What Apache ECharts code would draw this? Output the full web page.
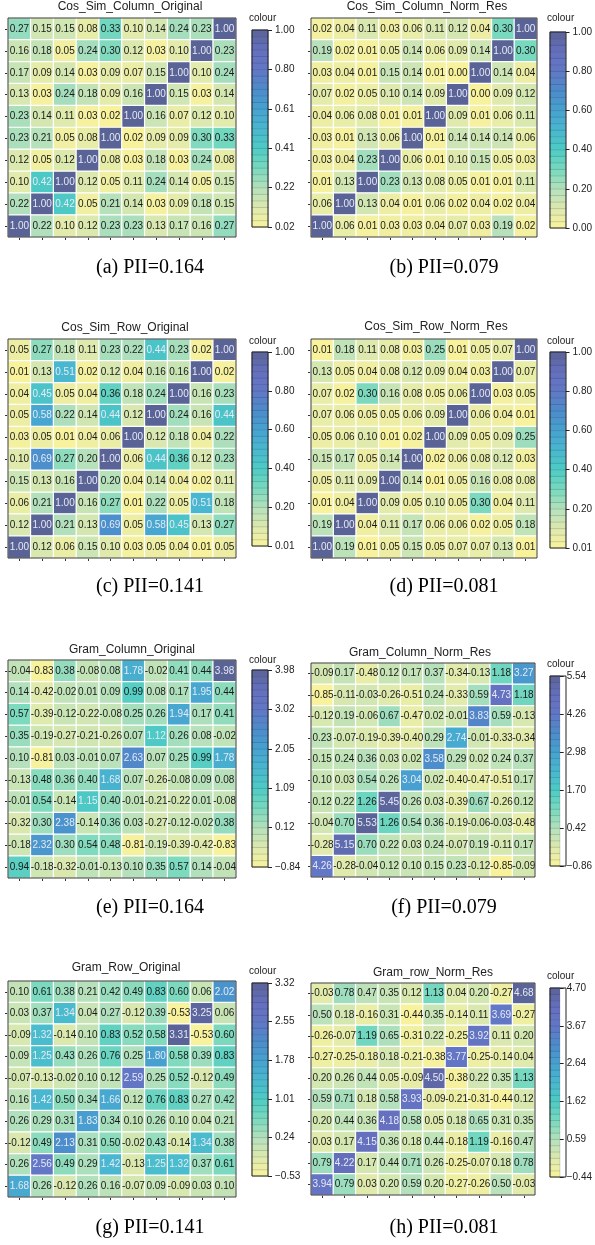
<!DOCTYPE html>
<html><head><meta charset="utf-8">
<script src="https://cdn.jsdelivr.net/npm/echarts@6/dist/echarts.min.js"></script>
<style>html,body{margin:0;padding:0;background:#fff}#c{width:595px;height:1245px}</style>
</head><body><div id="c"></div>
<script>
// ---------- DATA ----------
const titles = ['Cos_Sim_Column_Original','Cos_Sim_Column_Norm_Res','Cos_Sim_Row_Original','Cos_Sim_Row_Norm_Res',
  'Gram_Column_Original','Gram_Column_Norm_Res','Gram_Row_Original','Gram_row_Norm_Res'];
const captions = ['(a) PII=0.164','(b) PII=0.079','(c) PII=0.141','(d) PII=0.081',
  '(e) PII=0.164','(f) PII=0.079','(g) PII=0.141','(h) PII=0.081'];

const cosSimColumnOriginal = [
 [0.27,0.15,0.15,0.08,0.33,0.10,0.14,0.24,0.23,1.00],
 [0.16,0.18,0.05,0.24,0.30,0.12,0.03,0.10,1.00,0.23],
 [0.17,0.09,0.14,0.03,0.09,0.07,0.15,1.00,0.10,0.24],
 [0.13,0.03,0.24,0.18,0.09,0.16,1.00,0.15,0.03,0.14],
 [0.23,0.14,0.11,0.03,0.02,1.00,0.16,0.07,0.12,0.10],
 [0.23,0.21,0.05,0.08,1.00,0.02,0.09,0.09,0.30,0.33],
 [0.12,0.05,0.12,1.00,0.08,0.03,0.18,0.03,0.24,0.08],
 [0.10,0.42,1.00,0.12,0.05,0.11,0.24,0.14,0.05,0.15],
 [0.22,1.00,0.42,0.05,0.21,0.14,0.03,0.09,0.18,0.15],
 [1.00,0.22,0.10,0.12,0.23,0.23,0.13,0.17,0.16,0.27]];
const cosSimColumnNormRes = [
 [0.02,0.04,0.11,0.03,0.06,0.11,0.12,0.04,0.30,1.00],
 [0.19,0.02,0.01,0.05,0.14,0.06,0.09,0.14,1.00,0.30],
 [0.03,0.04,0.01,0.15,0.14,0.01,0.00,1.00,0.14,0.04],
 [0.07,0.02,0.05,0.10,0.14,0.09,1.00,0.00,0.09,0.12],
 [0.04,0.06,0.08,0.01,0.01,1.00,0.09,0.01,0.06,0.11],
 [0.03,0.01,0.13,0.06,1.00,0.01,0.14,0.14,0.14,0.06],
 [0.03,0.04,0.23,1.00,0.06,0.01,0.10,0.15,0.05,0.03],
 [0.01,0.13,1.00,0.23,0.13,0.08,0.05,0.01,0.01,0.11],
 [0.06,1.00,0.13,0.04,0.01,0.06,0.02,0.04,0.02,0.04],
 [1.00,0.06,0.01,0.03,0.03,0.04,0.07,0.03,0.19,0.02]];
const cosSimRowOriginal = [
 [0.05,0.27,0.18,0.11,0.23,0.22,0.44,0.23,0.02,1.00],
 [0.01,0.13,0.51,0.02,0.12,0.04,0.16,0.16,1.00,0.02],
 [0.04,0.45,0.05,0.04,0.36,0.18,0.24,1.00,0.16,0.23],
 [0.05,0.58,0.22,0.14,0.44,0.12,1.00,0.24,0.16,0.44],
 [0.03,0.05,0.01,0.04,0.06,1.00,0.12,0.18,0.04,0.22],
 [0.10,0.69,0.27,0.20,1.00,0.06,0.44,0.36,0.12,0.23],
 [0.15,0.13,0.16,1.00,0.20,0.04,0.14,0.04,0.02,0.11],
 [0.06,0.21,1.00,0.16,0.27,0.01,0.22,0.05,0.51,0.18],
 [0.12,1.00,0.21,0.13,0.69,0.05,0.58,0.45,0.13,0.27],
 [1.00,0.12,0.06,0.15,0.10,0.03,0.05,0.04,0.01,0.05]];
const cosSimRowNormRes = [
 [0.01,0.18,0.11,0.08,0.03,0.25,0.01,0.05,0.07,1.00],
 [0.13,0.05,0.04,0.08,0.12,0.09,0.04,0.03,1.00,0.07],
 [0.07,0.02,0.30,0.16,0.08,0.05,0.06,1.00,0.03,0.05],
 [0.07,0.06,0.05,0.05,0.06,0.09,1.00,0.06,0.04,0.01],
 [0.05,0.06,0.10,0.01,0.02,1.00,0.09,0.05,0.09,0.25],
 [0.15,0.17,0.05,0.14,1.00,0.02,0.06,0.08,0.12,0.03],
 [0.05,0.11,0.09,1.00,0.14,0.01,0.05,0.16,0.08,0.08],
 [0.01,0.04,1.00,0.09,0.05,0.10,0.05,0.30,0.04,0.11],
 [0.19,1.00,0.04,0.11,0.17,0.06,0.06,0.02,0.05,0.18],
 [1.00,0.19,0.01,0.05,0.15,0.05,0.07,0.07,0.13,0.01]];
const gramColumnOriginal = [
 [-0.04,-0.83,0.38,-0.08,0.08,1.78,-0.02,0.41,0.44,3.98],
 [0.14,-0.42,-0.02,0.01,0.09,0.99,0.08,0.17,1.95,0.44],
 [0.57,-0.39,-0.12,-0.22,-0.08,0.25,0.26,1.94,0.17,0.41],
 [0.35,-0.19,-0.27,-0.21,-0.26,0.07,1.12,0.26,0.08,-0.02],
 [0.10,-0.81,0.03,-0.01,0.07,2.63,0.07,0.25,0.99,1.78],
 [-0.13,0.48,0.36,0.40,1.68,0.07,-0.26,-0.08,0.09,0.08],
 [-0.01,0.54,-0.14,1.15,0.40,-0.01,-0.21,-0.22,0.01,-0.08],
 [-0.32,0.30,2.38,-0.14,0.36,0.03,-0.27,-0.12,-0.02,0.38],
 [-0.18,2.32,0.30,0.54,0.48,-0.81,-0.19,-0.39,-0.42,-0.83],
 [0.94,-0.18,-0.32,-0.01,-0.13,0.10,0.35,0.57,0.14,-0.04]];
const gramColumnNormRes = [
 [-0.09,0.17,-0.48,0.12,0.17,0.37,-0.34,-0.13,1.18,3.27],
 [-0.85,-0.11,-0.03,-0.26,-0.51,0.24,-0.33,0.59,4.73,1.18],
 [-0.12,0.19,-0.06,0.67,-0.47,0.02,-0.01,3.83,0.59,-0.13],
 [0.23,-0.07,-0.19,-0.39,-0.40,0.29,2.74,-0.01,-0.33,-0.34],
 [0.15,0.24,0.36,0.03,0.02,3.58,0.29,0.02,0.24,0.37],
 [0.10,0.03,0.54,0.26,3.04,0.02,-0.40,-0.47,-0.51,0.17],
 [0.12,0.22,1.26,5.45,0.26,0.03,-0.39,0.67,-0.26,0.12],
 [-0.04,0.70,5.53,1.26,0.54,0.36,-0.19,-0.06,-0.03,-0.48],
 [-0.28,5.15,0.70,0.22,0.03,0.24,-0.07,0.19,-0.11,0.17],
 [4.26,-0.28,-0.04,0.12,0.10,0.15,0.23,-0.12,-0.85,-0.09]];
const gramRowOriginal = [
 [0.10,0.61,0.38,0.21,0.42,0.49,0.83,0.60,0.06,2.02],
 [0.03,0.37,1.34,0.04,0.27,-0.12,0.39,-0.53,3.25,0.06],
 [-0.09,1.32,-0.14,0.10,0.83,0.52,0.58,3.31,-0.53,0.60],
 [0.09,1.25,0.43,0.26,0.76,0.25,1.80,0.58,0.39,0.83],
 [-0.07,-0.13,-0.02,0.10,0.12,2.59,0.25,0.52,-0.12,0.49],
 [0.16,1.42,0.50,0.34,1.66,0.12,0.76,0.83,0.27,0.42],
 [0.26,0.29,0.31,1.83,0.34,0.10,0.26,0.10,0.04,0.21],
 [-0.12,0.49,2.13,0.31,0.50,-0.02,0.43,-0.14,1.34,0.38],
 [0.26,2.56,0.49,0.29,1.42,-0.13,1.25,1.32,0.37,0.61],
 [1.68,0.26,-0.12,0.26,0.16,-0.07,0.09,-0.09,0.03,0.10]];
const gramRowNormRes = [
 [-0.03,0.78,0.47,0.35,0.12,1.13,0.04,0.20,-0.27,4.68],
 [0.50,0.18,-0.16,0.31,-0.44,0.35,-0.14,0.11,3.69,-0.27],
 [-0.26,-0.07,1.19,0.65,-0.31,0.22,-0.25,3.92,0.11,0.20],
 [-0.27,-0.25,-0.18,0.18,-0.21,-0.38,3.77,-0.25,-0.14,0.04],
 [0.20,0.26,0.44,0.05,-0.09,4.50,-0.38,0.22,0.35,1.13],
 [0.59,0.71,0.18,0.58,3.93,-0.09,-0.21,-0.31,-0.44,0.12],
 [0.20,0.44,0.36,4.18,0.58,0.05,0.18,0.65,0.31,0.35],
 [0.03,0.17,4.15,0.36,0.18,0.44,-0.18,1.19,-0.16,0.47],
 [0.79,4.22,0.17,0.44,0.71,0.26,-0.25,-0.07,0.18,0.78],
 [3.94,0.79,0.03,0.20,0.59,0.20,-0.27,-0.26,0.50,-0.03]];

// colour-bar tick labels (bottom to top)
const ticksA = [0.02,0.22,0.41,0.61,0.80,1.00];
const ticksB = [0.00,0.20,0.40,0.60,0.80,1.00];
const ticksC = [0.01,0.20,0.40,0.60,0.80,1.00];
const ticksD = [0.01,0.20,0.40,0.60,0.80,1.00];
const ticksE = [-0.84,0.12,1.09,2.05,3.02,3.98];
const ticksF = [-0.86,0.42,1.70,2.98,4.26,5.54];
const ticksG = [-0.53,0.24,1.01,1.78,2.55,3.32];
const ticksH = [-0.44,0.59,1.62,2.64,3.67,4.70];

const matrices = [cosSimColumnOriginal,cosSimColumnNormRes,cosSimRowOriginal,cosSimRowNormRes,
  gramColumnOriginal,gramColumnNormRes,gramRowOriginal,gramRowNormRes];
const tickSets = [ticksA,ticksB,ticksC,ticksD,ticksE,ticksF,ticksG,ticksH];

// ---------- LAYOUT (positions only) ----------
const layout = [
 {grid:[8,18,228,219],   title:[130,7],   cbar:[252,30,16,197],  colour:[249,18],  cap:[150,268]},
 {grid:[311,18,226,219], title:[427,7],   cbar:[550,32,16,196],  colour:[547,18],  cap:[444,268]},
 {grid:[8,339,228,219],  title:[125,328], cbar:[252,352,16,194], colour:[249,341], cap:[150,587]},
 {grid:[311,339,226,219],title:[436,327], cbar:[550,352,16,196], colour:[547,341], cap:[444,587]},
 {grid:[8,660,228,218],  title:[132,650], cbar:[252,670,16,197], colour:[249,660], cap:[150,908]},
 {grid:[311,663,224,214],title:[420,653], cbar:[550,676,16,190], colour:[547,664], cap:[444,908]},
 {grid:[8,981,228,216],  title:[126,968], cbar:[252,983,16,193], colour:[249,971], cap:[150,1228]},
 {grid:[311,983,224,212],title:[433,973], cbar:[550,988,16,189], colour:[547,976], cap:[444,1228]}
];
</script>
<script>
const FONT = '"Liberation Sans", Arial, Helvetica, sans-serif';
const palette = ['#f8f29c','#dde9ae','#b4e0bc','#78d9be','#4dcbc4','#48b8cf','#47a2d0','#4c8ccb','#6277c6','#6570bf','#5a6396'];
const NSTRIPE = 30;
const cats10 = ['0','1','2','3','4','5','6','7','8','9'];
const stripeCats = Array.from({length:NSTRIPE},(_,k)=>String(k));
const fmtCell = v => v.toFixed(2);
const fmtTick = v => (v<0?'\u2212':'') + Math.abs(v).toFixed(2);

const grid=[], xAxis=[], yAxis=[], series=[], cbSeries=[], visualMap=[], graphic=[];
const tickStyle = {show:true, alignWithLabel:true, length:3, lineStyle:{color:'#333', width:1}};

matrices.forEach((m,i)=>{
  const L = layout[i];
  const ticks = tickSets[i];
  const vmin = ticks[0], vmax = ticks[ticks.length-1];
  grid.push({left:L.grid[0], top:L.grid[1], width:L.grid[2], height:L.grid[3]});
  xAxis.push({type:'category', data:cats10, gridIndex:i, axisLine:{show:false}, axisTick:tickStyle,
    axisLabel:{show:false}, splitLine:{show:false}, position:'bottom'});
  yAxis.push({type:'category', data:cats10, gridIndex:i, inverse:true, axisLine:{show:false}, axisTick:tickStyle,
    axisLabel:{show:false}, splitLine:{show:false}, position:'left'});
  const data=[];
  m.forEach((row,r)=>row.forEach((v,c)=>{
    const t=(v-vmin)/(vmax-vmin);
    data.push({value:[c,r,v], label:{color: t>0.4 ? '#e6e9f4' : '#1a1a1a'}});
  }));
  series.push({type:'heatmap', xAxisIndex:i, yAxisIndex:i, data,
    label:{show:true, formatter:p=>fmtCell(p.value[2]), fontSize:10, fontFamily:FONT},
    itemStyle:{borderColor:'#ffffff', borderWidth:1.2}, emphasis:{disabled:true}});
  graphic.push({type:'rect', shape:{x:L.grid[0], y:L.grid[1], width:L.grid[2], height:L.grid[3]},
    style:{fill:null, stroke:'#3c3c3c', lineWidth:1}, z:100, silent:true});
  graphic.push({type:'text', x:L.title[0], y:L.title[1], style:{text:titles[i], fontSize:12, fontFamily:FONT,
    fill:'#222', align:'center', verticalAlign:'middle'}, z:100});
  graphic.push({type:'text', x:L.cap[0], y:L.cap[1], style:{text:captions[i], fontSize:20,
    fontFamily:'"Liberation Serif", "Times New Roman", serif', fill:'#000', align:'center', verticalAlign:'middle'}, z:100});
  graphic.push({type:'text', x:L.colour[0], y:L.colour[1], style:{text:'colour', fontSize:10, fontFamily:FONT,
    fill:'#222', align:'left', verticalAlign:'middle'}, z:100});
  graphic.push({type:'rect', shape:{x:L.cbar[0], y:L.cbar[1], width:L.cbar[2], height:L.cbar[3]},
    style:{fill:null, stroke:'#222', lineWidth:1}, z:100, silent:true});
});

// colour bars: yAxis order after the 8 heatmap axes: [category, value] per bar
matrices.forEach((m,i)=>{
  const L = layout[i];
  const ticks = tickSets[i];
  const vmin = ticks[0], vmax = ticks[ticks.length-1];
  const gi = 8+i;
  grid.push({left:L.cbar[0], top:L.cbar[1], width:L.cbar[2], height:L.cbar[3]});
  xAxis.push({type:'category', data:['c'], gridIndex:gi, show:false});
  const catIdx = yAxis.length;
  yAxis.push({type:'category', data:stripeCats, gridIndex:gi, show:false});
  yAxis.push({type:'value', gridIndex:gi, position:'right', min:0, max:ticks.length-1, interval:1,
    axisLine:{show:false}, splitLine:{show:false},
    axisTick:{show:true, length:4, lineStyle:{color:'#222'}},
    axisLabel:{show:true, margin:7, fontSize:10, fontFamily:FONT, color:'#222', formatter:v=>fmtTick(ticks[Math.round(v)])}});
  const data=[];
  for(let k=0;k<NSTRIPE;k++) data.push([0,k, vmin+(k+0.5)*(vmax-vmin)/NSTRIPE]);
  cbSeries.push({type:'heatmap', xAxisIndex:gi, yAxisIndex:catIdx, data,
    itemStyle:{borderColor:'rgba(20,20,40,0.28)', borderWidth:0.5}, emphasis:{disabled:true}, label:{show:false}});
});

const allSeries = series.concat(cbSeries);
matrices.forEach((m,i)=>{
  const ticks = tickSets[i];
  visualMap.push({type:'continuous', show:false, min:ticks[0], max:ticks[ticks.length-1], dimension:2,
    seriesIndex:[i, 8+i], inRange:{color:palette}});
});

const chart = echarts.init(document.getElementById('c'), null, {renderer:'canvas'});
chart.setOption({
  animation:false, backgroundColor:'#ffffff',
  textStyle:{fontFamily:FONT},
  grid, xAxis, yAxis, series:allSeries, visualMap, graphic
});
</script>
</body></html>
